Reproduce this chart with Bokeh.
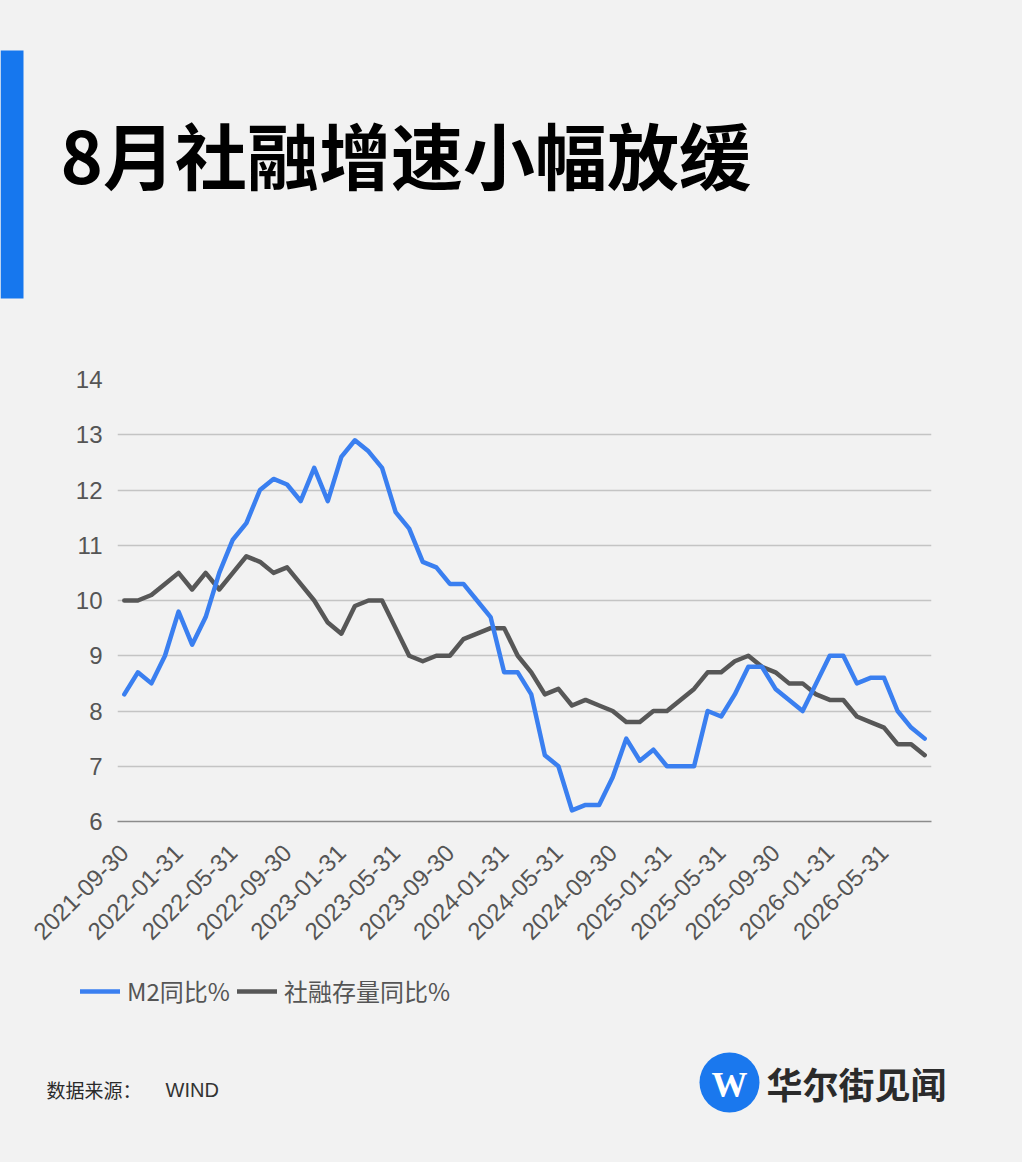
import pandas as pd
from math import pi
from bokeh.plotting import figure
from bokeh.layouts import column
from bokeh.models import ColumnDataSource, Range1d, FixedTicker, Legend, LegendItem
from bokeh.core.properties import value
from bokeh.embed import file_html
from bokeh.resources import INLINE

# ---------------- data ----------------
dates = pd.date_range("2021-09-30", periods=60, freq="ME").strftime("%Y-%m-%d").tolist()

m2_yoy = [8.3, 8.7, 8.5, 9.0, 9.8, 9.2, 9.7, 10.5, 11.1, 11.4,
          12.0, 12.2, 12.1, 11.8, 12.4, 11.8, 12.6, 12.9, 12.7, 12.4,
          11.6, 11.3, 10.7, 10.6, 10.3, 10.3, 10.0, 9.7, 8.7, 8.7,
          8.3, 7.2, 7.0, 6.2, 6.3, 6.3, 6.8, 7.5, 7.1, 7.3,
          7.0, 7.0, 7.0, 8.0, 7.9, 8.3, 8.8, 8.8, 8.4, 8.2,
          8.0, 8.5, 9.0, 9.0, 8.5, 8.6, 8.6, 8.0, 7.7, 7.5]

tsf_yoy = [10.0, 10.0, 10.1, 10.3, 10.5, 10.2, 10.5, 10.2, 10.5, 10.8,
           10.7, 10.5, 10.6, 10.3, 10.0, 9.6, 9.4, 9.9, 10.0, 10.0,
           9.5, 9.0, 8.9, 9.0, 9.0, 9.3, 9.4, 9.5, 9.5, 9.0,
           8.7, 8.3, 8.4, 8.1, 8.2, 8.1, 8.0, 7.8, 7.8, 8.0,
           8.0, 8.2, 8.4, 8.7, 8.7, 8.9, 9.0, 8.8, 8.7, 8.5,
           8.5, 8.3, 8.2, 8.2, 7.9, 7.8, 7.7, 7.4, 7.4, 7.2]

y_ticks = [6, 7, 8, 9, 10, 11, 12, 13, 14]
x_tick_idx = list(range(0, len(dates), 4))
series_names = ["M2同比%", "社融存量同比%"]
title_text = "8月社融增速小幅放缓"
source_text = "数据来源："
source_name = "WIND"
brand_text = "华尔街见闻"

BG = "#f2f2f2"
BLUE = "#3a7ff0"
GRAY = "#575757"
ACCENT = "#1677ee"
CJK = "Noto Sans CJK SC"

W = 1022
H_HEAD, H_CHART, H_FOOT = 330, 630, 202


def blank_fig(height, y0):
    f = figure(width=W, height=height, output_backend="svg", toolbar_location=None,
               x_range=Range1d(0, W), y_range=Range1d(y0 + height, y0),
               min_border=0, background_fill_alpha=0, border_fill_color=BG,
               outline_line_color=None, frame_align=False)
    f.axis.visible = False
    f.grid.visible = False
    return f


# ---------------- header ----------------
head = blank_fig(H_HEAD, 0)
head.quad(left=[0], right=[23], top=[50], bottom=[298], fill_color=ACCENT, line_color=None)
head.text(x=[60], y=[152], text=[title_text], text_font=value(CJK), text_font_style="bold",
          text_font_size="72px", text_color="#000000", text_baseline="middle", text_align="left")

# ---------------- chart ----------------
src = ColumnDataSource(dict(x=list(range(len(dates))), date=dates, m2=m2_yoy, tsf=tsf_yoy))

p = figure(width=W, height=H_CHART, output_backend="svg", toolbar_location=None,
           x_range=Range1d(-0.5, len(dates) - 0.5), y_range=Range1d(6, 14),
           min_border_left=117, min_border_right=W - 931, min_border_top=379 - H_HEAD,
           min_border_bottom=H_HEAD + H_CHART - 821, frame_align=False,
           background_fill_alpha=0, border_fill_color=BG, outline_line_color=None)

line_kw = dict(line_width=4.5, line_join="round", line_cap="round")
p.line("x", "tsf", source=src, line_color=GRAY, **line_kw)
p.line("x", "m2", source=src, line_color=BLUE, **line_kw)

p.yaxis.ticker = FixedTicker(ticks=y_ticks)
p.yaxis.axis_line_color = None
p.yaxis.major_tick_line_color = None
p.yaxis.minor_tick_line_color = None
p.yaxis.major_tick_out = 0
p.yaxis.major_label_standoff = 15
p.yaxis.major_label_text_font = "Liberation Sans"
p.yaxis.major_label_text_font_size = "24px"
p.yaxis.major_label_text_color = "#555555"

p.xaxis.ticker = FixedTicker(ticks=x_tick_idx)
p.xaxis.major_label_overrides = {i: dates[i] for i in x_tick_idx}
p.xaxis.major_label_orientation = pi / 4
p.xaxis.axis_line_color = "#8c8c8c"
p.xaxis.axis_line_width = 1.5
p.xaxis.major_tick_line_color = None
p.xaxis.minor_tick_line_color = None
p.xaxis.major_tick_out = 0
p.xaxis.major_label_standoff = 27
p.xaxis.major_label_text_font = "Liberation Sans"
p.xaxis.major_label_text_font_size = "24px"
p.xaxis.major_label_text_color = "#555555"

p.xgrid.grid_line_color = None
p.ygrid.ticker = FixedTicker(ticks=y_ticks)
p.ygrid.grid_line_color = "#c4c4c4"
p.ygrid.grid_line_width = 1.5

# ---------------- footer ----------------
y_foot = H_HEAD + H_CHART
foot = blank_fig(H_FOOT, y_foot)

# legend keys: renderers styled like the chart lines, holding no visible point
nan = float("nan")
k_m2 = foot.line(x=[nan], y=[nan], line_color=BLUE, **line_kw)
k_tsf = foot.line(x=[nan], y=[nan], line_color=GRAY, **line_kw)
legend = Legend(items=[LegendItem(label=series_names[0], renderers=[k_m2]),
                       LegendItem(label=series_names[1], renderers=[k_tsf])],
                orientation="horizontal", location=(80, (y_foot + H_FOOT) - 993 - 15),
                glyph_width=40, glyph_height=30, label_height=30, label_standoff=7, spacing=7,
                padding=0, margin=0, border_line_color=None, background_fill_alpha=0,
                label_text_font=CJK, label_text_font_size="24px",
                label_text_color="#555555", label_text_baseline="middle")
foot.add_layout(legend, "center")

foot.text(x=[46], y=[1089], text=[source_text], text_font=value(CJK), text_font_size="19px",
          text_color="#2a2a2a", text_baseline="middle")
foot.text(x=[165], y=[1089], text=[source_name], text_font=value("Liberation Sans"),
          text_font_size="20px", text_color="#333333", text_baseline="middle")

foot.circle(x=[729], y=[1082], radius=30, fill_color="#1a78ee", line_color=None)
foot.text(x=[729], y=[1084], text=["W"], text_font=value("Liberation Serif"), text_font_style="bold",
          text_font_size="36px", text_color="#ffffff", text_baseline="middle", text_align="center")
foot.text(x=[766], y=[1082], text=[brand_text], text_font=value(CJK), text_font_style="bold",
          text_font_size="36px", text_color="#2b2b2b", text_baseline="middle")

layout = column(head, p, foot, spacing=0, styles={"background-color": BG})
open("out.html", "w").write(file_html(layout, INLINE))
